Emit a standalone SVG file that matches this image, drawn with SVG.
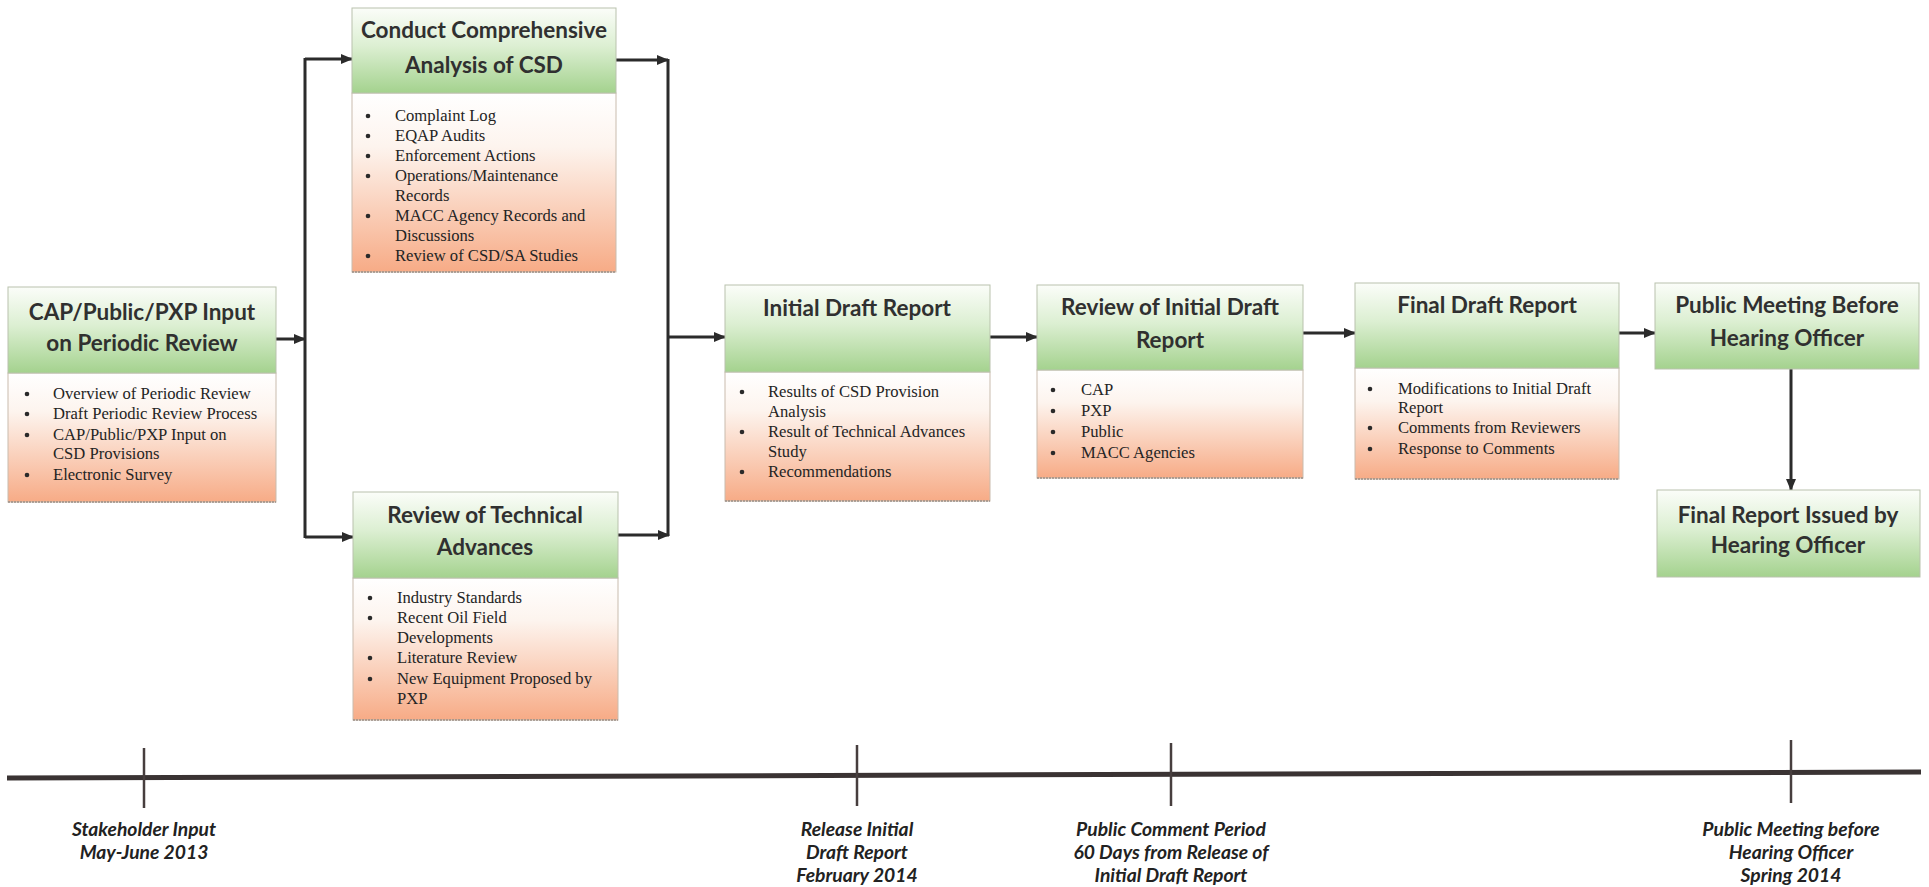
<svg xmlns="http://www.w3.org/2000/svg" width="1929" height="887" viewBox="0 0 1929 887">
<defs>
<linearGradient id="hdr" x1="0" y1="0" x2="0" y2="1">
<stop offset="0" stop-color="#fbfdf9"/>
<stop offset="0.45" stop-color="#dcefd2"/>
<stop offset="1" stop-color="#a4d28e"/>
</linearGradient>
<linearGradient id="body" x1="0" y1="0" x2="0" y2="1">
<stop offset="0" stop-color="#ffffff"/>
<stop offset="0.3" stop-color="#fdf4ee"/>
<stop offset="1" stop-color="#f7ab86"/>
</linearGradient>
<marker id="ah" viewBox="0 0 12 10" refX="11" refY="5" markerWidth="12" markerHeight="10" markerUnits="userSpaceOnUse" orient="auto">
<path d="M0,0 L12,5 L0,10 z" fill="#2b2b2b"/>
</marker>
</defs>
<style>
.h{fill:url(#hdr);stroke:#b9c2ad;stroke-width:1}
.b{fill:url(#body);stroke:#c9bcae;stroke-width:1}
.bl{stroke:#9a8f86;stroke-width:1.5;stroke-dasharray:2 1}
.t{font-family:Lato,"Liberation Sans",sans-serif;font-weight:bold;font-size:22.5px;fill:#303030;text-anchor:middle}
.i{font-family:"Liberation Serif","Times New Roman",serif;font-size:16.6px;fill:#242424}
.d{fill:#2a2a2a}
.c{fill:none;stroke:#2b2b2b;stroke-width:3}
.a{fill:none;stroke:#2b2b2b;stroke-width:3;marker-end:url(#ah)}
.l{font-family:Lato,"Liberation Sans",sans-serif;font-weight:bold;font-style:italic;font-size:19.3px;fill:#222;text-anchor:middle}
</style>
<rect width="1929" height="887" fill="#ffffff"/>

<g id="connectors">
<line class="a" x1="276" y1="339" x2="305" y2="339"/>
<line class="c" x1="305" y1="58" x2="305" y2="538"/>
<line class="a" x1="305" y1="59" x2="352" y2="59"/>
<line class="a" x1="305" y1="537" x2="353" y2="537"/>
<line class="a" x1="616" y1="60" x2="668" y2="60"/>
<line class="a" x1="618" y1="535" x2="669" y2="535"/>
<line class="c" x1="668" y1="59" x2="668" y2="536"/>
<line class="a" x1="668" y1="337" x2="725" y2="337"/>
<line class="a" x1="990" y1="337" x2="1037" y2="337"/>
<line class="a" x1="1303" y1="333" x2="1355" y2="333"/>
<line class="a" x1="1619" y1="333" x2="1655" y2="333"/>
<line class="a" x1="1791" y1="369" x2="1791" y2="490"/>
</g>

<g id="n1">
<rect class="b" x="8" y="373" width="268" height="129"/>
<rect class="h" x="8" y="287" width="268" height="86"/>
<line class="bl" x1="8" y1="502" x2="276" y2="502"/>
<text class="t" x="142" y="320">CAP/Public/PXP Input</text>
<text class="t" x="142" y="351">on Periodic Review</text>
<g class="d"><circle cx="27" cy="394" r="2.3"/><circle cx="27" cy="414" r="2.3"/><circle cx="27" cy="435" r="2.3"/><circle cx="27" cy="475" r="2.3"/></g>
<text class="i" x="53" y="399">Overview of Periodic Review</text>
<text class="i" x="53" y="419">Draft Periodic Review Process</text>
<text class="i" x="53" y="440">CAP/Public/PXP Input on</text>
<text class="i" x="53" y="459">CSD Provisions</text>
<text class="i" x="53" y="480">Electronic Survey</text>
</g>

<g id="n2">
<rect class="b" x="352" y="93" width="264" height="179"/>
<rect class="h" x="352" y="8" width="264" height="85"/>
<line class="bl" x1="352" y1="272" x2="616" y2="272"/>
<text class="t" x="484" y="38">Conduct Comprehensive</text>
<text class="t" x="484" y="73">Analysis of CSD</text>
<g class="d"><circle cx="368" cy="116" r="2.3"/><circle cx="368" cy="136" r="2.3"/><circle cx="368" cy="156" r="2.3"/><circle cx="368" cy="176" r="2.3"/><circle cx="368" cy="216" r="2.3"/><circle cx="368" cy="256" r="2.3"/></g>
<text class="i" x="395" y="121">Complaint Log</text>
<text class="i" x="395" y="141">EQAP Audits</text>
<text class="i" x="395" y="161">Enforcement Actions</text>
<text class="i" x="395" y="181">Operations/Maintenance</text>
<text class="i" x="395" y="201">Records</text>
<text class="i" x="395" y="221">MACC Agency Records and</text>
<text class="i" x="395" y="241">Discussions</text>
<text class="i" x="395" y="261">Review of CSD/SA Studies</text>
</g>

<g id="n3">
<rect class="b" x="353" y="578" width="265" height="142"/>
<rect class="h" x="353" y="492" width="265" height="86"/>
<line class="bl" x1="353" y1="720" x2="618" y2="720"/>
<text class="t" x="485" y="523">Review of Technical</text>
<text class="t" x="485" y="555">Advances</text>
<g class="d"><circle cx="370" cy="598" r="2.3"/><circle cx="370" cy="618" r="2.3"/><circle cx="370" cy="658" r="2.3"/><circle cx="370" cy="679" r="2.3"/></g>
<text class="i" x="397" y="603">Industry Standards</text>
<text class="i" x="397" y="623">Recent Oil Field</text>
<text class="i" x="397" y="643">Developments</text>
<text class="i" x="397" y="663">Literature Review</text>
<text class="i" x="397" y="684">New Equipment Proposed by</text>
<text class="i" x="397" y="704">PXP</text>
</g>

<g id="n4">
<rect class="b" x="725" y="372" width="265" height="129"/>
<rect class="h" x="725" y="285" width="265" height="87"/>
<line class="bl" x1="725" y1="501" x2="990" y2="501"/>
<text class="t" x="857" y="316">Initial Draft Report</text>
<g class="d"><circle cx="742" cy="392" r="2.3"/><circle cx="742" cy="432" r="2.3"/><circle cx="742" cy="472" r="2.3"/></g>
<text class="i" x="768" y="397">Results of CSD Provision</text>
<text class="i" x="768" y="417">Analysis</text>
<text class="i" x="768" y="437">Result of Technical Advances</text>
<text class="i" x="768" y="457">Study</text>
<text class="i" x="768" y="477">Recommendations</text>
</g>

<g id="n5">
<rect class="b" x="1037" y="370" width="266" height="108"/>
<rect class="h" x="1037" y="285" width="266" height="85"/>
<line class="bl" x1="1037" y1="478" x2="1303" y2="478"/>
<text class="t" x="1170" y="315">Review of Initial Draft</text>
<text class="t" x="1170" y="348">Report</text>
<g class="d"><circle cx="1053" cy="390" r="2.3"/><circle cx="1053" cy="411" r="2.3"/><circle cx="1053" cy="432" r="2.3"/><circle cx="1053" cy="453" r="2.3"/></g>
<text class="i" x="1081" y="395">CAP</text>
<text class="i" x="1081" y="416">PXP</text>
<text class="i" x="1081" y="437">Public</text>
<text class="i" x="1081" y="458">MACC Agencies</text>
</g>

<g id="n6">
<rect class="b" x="1355" y="368" width="264" height="111"/>
<rect class="h" x="1355" y="283" width="264" height="85"/>
<line class="bl" x1="1355" y1="479" x2="1619" y2="479"/>
<text class="t" x="1487" y="313">Final Draft Report</text>
<g class="d"><circle cx="1370" cy="389" r="2.3"/><circle cx="1370" cy="428" r="2.3"/><circle cx="1370" cy="449" r="2.3"/></g>
<text class="i" x="1398" y="394">Modifications to Initial  Draft</text>
<text class="i" x="1398" y="413">Report</text>
<text class="i" x="1398" y="433">Comments from Reviewers</text>
<text class="i" x="1398" y="454">Response to Comments</text>
</g>

<g id="n7">
<rect class="h" x="1655" y="283" width="264" height="86"/>
<text class="t" x="1787" y="313">Public Meeting Before</text>
<text class="t" x="1787" y="346">Hearing Officer</text>
</g>

<g id="n8">
<rect class="h" x="1657" y="490" width="263" height="87"/>
<text class="t" x="1788" y="523">Final Report Issued by</text>
<text class="t" x="1788" y="553">Hearing Officer</text>
</g>

<g id="timeline">
<line x1="7" y1="778" x2="1921" y2="772" stroke="#3a3333" stroke-width="5"/>
<g stroke="#473e3e" stroke-width="2.5">
<line x1="144" y1="748" x2="144" y2="808"/>
<line x1="857" y1="745" x2="857" y2="806"/>
<line x1="1171" y1="743" x2="1171" y2="806"/>
<line x1="1791" y1="740" x2="1791" y2="803"/>
</g>
<text class="l" x="144" y="836">Stakeholder Input</text>
<text class="l" x="144" y="859">May-June 2013</text>
<text class="l" x="857" y="836">Release Initial</text>
<text class="l" x="857" y="859">Draft Report</text>
<text class="l" x="857" y="882">February 2014</text>
<text class="l" x="1171" y="836">Public Comment Period</text>
<text class="l" x="1171" y="859">60 Days from Release of</text>
<text class="l" x="1171" y="882">Initial Draft Report</text>
<text class="l" x="1791" y="836">Public Meeting before</text>
<text class="l" x="1791" y="859">Hearing Officer</text>
<text class="l" x="1791" y="882">Spring 2014</text>
</g>
</svg>
